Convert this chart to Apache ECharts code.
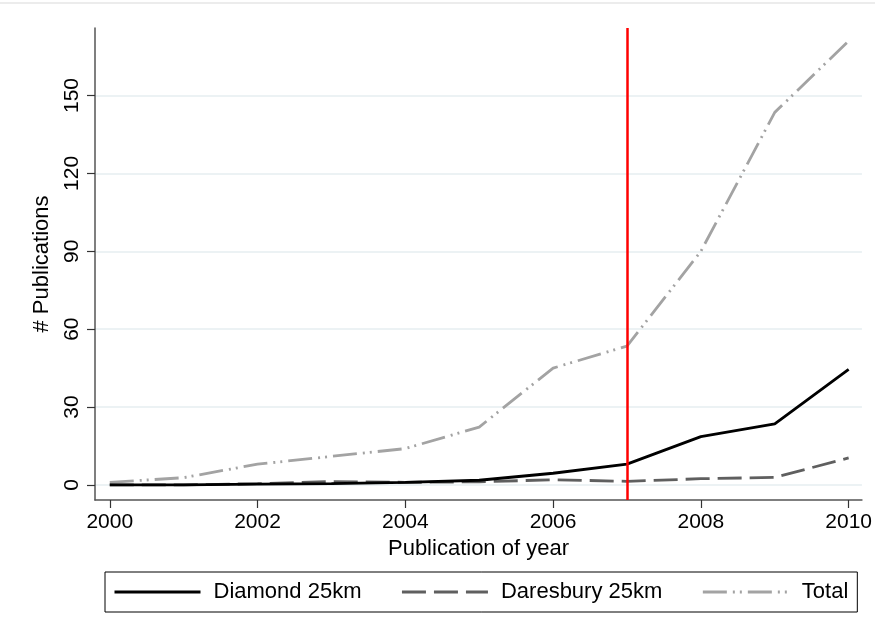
<!DOCTYPE html>
<html>
<head>
<meta charset="utf-8">
<script src="https://cdn.jsdelivr.net/npm/echarts@6/dist/echarts.min.js"></script>
<style>
html,body{margin:0;padding:0;background:#fff;}
#chart{width:875px;height:640px;}
</style>
</head>
<body>
<div id="chart"></div>
<script>
var years = [2000, 2001, 2002, 2003, 2004, 2005, 2006, 2007, 2008, 2009, 2010];
var diamond = [0, 0, 0.3, 0.5, 1, 1.8, 4.5, 8, 18.6, 23.5, 44.5];
var daresbury = [0, 0, 0.5, 1.3, 1, 1.2, 2, 1.4, 2.4, 2.9, 10.4];
var total = [1, 2.8, 8, 11, 14, 22.3, 45, 53.5, 90, 143.5, 171];
var xTicks = [2000, 2002, 2004, 2006, 2008, 2010];
var yTicks = [0, 30, 60, 90, 120, 150];
var markYear = 2007;

function pairs(vals) { return years.map(function (y, i) { return [y, vals[i]]; }); }

var FONT = 'Liberation Sans, Arial, sans-serif';
var chart = echarts.init(document.getElementById('chart'), null, {renderer: 'canvas'});
chart.setOption({
  animation: false,
  backgroundColor: '#ffffff',
  graphic: [{
    type: 'line', shape: {x1: 0, y1: 3, x2: 875, y2: 3},
    style: {stroke: '#e6e6e6', lineWidth: 1.5}, silent: true
  }],
  grid: {left: 95, right: 12, top: 28, bottom: 140, containLabel: false},
  xAxis: {
    type: 'value', min: 1999.8, max: 2010.18,
    name: 'Publication of year', nameLocation: 'middle', nameGap: 36,
    nameTextStyle: {fontFamily: FONT, fontSize: 22, color: '#000'},
    axisLine: {show: true, onZero: false, lineStyle: {color: '#555', width: 1.5}},
    axisTick: {show: true, length: 8, customValues: xTicks, lineStyle: {color: '#333', width: 1.2}},
    axisLabel: {customValues: xTicks, margin: 12, fontFamily: FONT, fontSize: 21, color: '#000',
      formatter: function (v) { return String(v); }},
    splitLine: {show: false}
  },
  yAxis: {
    type: 'value', min: -5.8, max: 176,
    name: '# Publications', nameLocation: 'middle', nameGap: 42, nameRotate: 90,
    nameTextStyle: {fontFamily: FONT, fontSize: 22, color: '#000'},
    axisLine: {show: true, onZero: false, lineStyle: {color: '#555', width: 1.5}},
    axisTick: {show: true, length: 8, customValues: yTicks, lineStyle: {color: '#333', width: 1.2}},
    axisLabel: {customValues: yTicks, rotate: 90, margin: 12, fontFamily: FONT, fontSize: 21, color: '#000'},
    splitLine: {show: true, lineStyle: {color: '#e6eef1', width: 1.5}}
  },
  legend: {
    left: 105, top: 572, orient: 'horizontal',
    padding: [9, 9, 9, 8],
    borderColor: '#000', borderWidth: 1, borderRadius: 0,
    itemWidth: 86, itemHeight: 22, itemGap: 39,
    itemStyle: {opacity: 0},
    lineStyle: {width: 3},
    textStyle: {fontFamily: FONT, fontSize: 22, color: '#000', padding: [0, 0, 0, 8]},
    data: ['Diamond 25km', 'Daresbury 25km', 'Total']
  },
  series: [
    {
      name: 'Diamond 25km', type: 'line', data: pairs(diamond), symbol: 'none', z: 4,
      lineStyle: {color: '#000000', width: 2.8}, itemStyle: {color: '#000000'},
      markLine: {
        silent: true, symbol: 'none', label: {show: false},
        lineStyle: {color: '#ff0000', width: 2.5, type: 'solid'},
        data: [{xAxis: markYear}]
      }
    },
    {
      name: 'Daresbury 25km', type: 'line', data: pairs(daresbury), symbol: 'none', z: 3,
      lineStyle: {color: '#5f5f5f', width: 2.8, type: [24, 8]}, itemStyle: {color: '#5f5f5f'}
    },
    {
      name: 'Total', type: 'line', data: pairs(total), symbol: 'none', z: 2,
      lineStyle: {color: '#a3a3a3', width: 2.8, type: [24, 6, 2, 5, 2, 6]}, itemStyle: {color: '#a3a3a3'}
    }
  ]
});
</script>
</body>
</html>
